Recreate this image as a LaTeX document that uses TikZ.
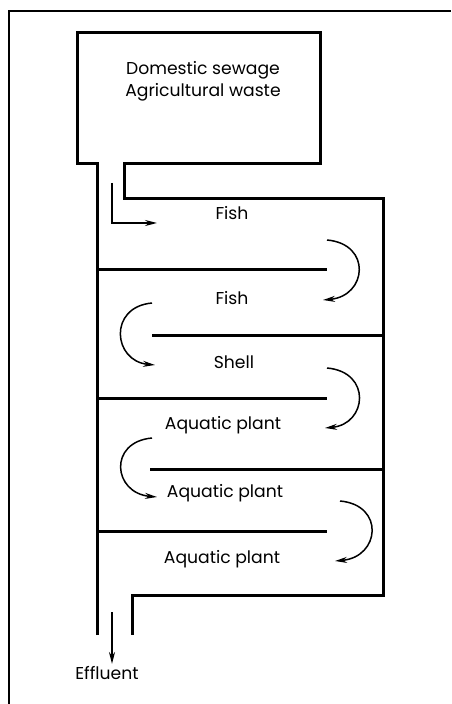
\documentclass[tikz,border=0pt]{standalone}
\usepackage{fontspec}
\setmainfont{Poppins}
\usetikzlibrary{arrows.meta, positioning}

\begin{document}
\begin{tikzpicture}[x=0.5pt, y=-0.5pt,
  wall/.style={line width=1.5pt, line join=miter},
  flow/.style={line width=0.75pt, -{Stealth[length=6pt, width=3pt]}},
  every node/.style={font=\fontsize{8.6}{11}\selectfont, inner sep=1pt}]
\useasboundingbox (0,0) rectangle (451,704);
\draw[line width=1pt] (9,704) -- (9,11) -- (451,11);
\draw[wall] (97,635) -- (97,164) -- (77,164) -- (77,33) -- (320,33) -- (320,164) -- (124,164)
  -- (124,199) -- (383,199) -- (383,595) -- (132,595) -- (132,635);
\draw[wall] (97,270) -- (327,270);
\draw[wall] (152,336) -- (383,336);
\draw[wall] (97,398) -- (327,398);
\draw[wall] (150,469) -- (383,469);
\draw[wall] (97,531) -- (327,531);
\node[align=center] (source) at (203,81) {Domestic sewage\\Agricultural waste};
\node (fish1) at (232,213) {Fish};
\node (fish2) at (232,298) {Fish};
\node (shell) at (234,362) {Shell};
\node (plant1) at (223,425) {Aquatic plant};
\node (plant2) at (225,493) {Aquatic plant};
\node (plant3) at (222,559) {Aquatic plant};
\node (effluent) at (107,673) {Effluent};
\draw[flow] (112,183) |- (157,223);
\draw[flow] (327,240) .. controls (372,244) and (367,296) .. (323,300);
\draw[flow] (152,303) .. controls (108,307) and (113,361) .. (155,365);
\draw[flow] (327,368) .. controls (372,372) and (367,424) .. (325,428);
\draw[flow] (152,438) .. controls (108,442) and (113,493) .. (157,497);
\draw[flow] (340,501) .. controls (385,505) and (380,557) .. (335,561);
\draw[flow] (112,612) -- (effluent.north -| 112,612);
\end{tikzpicture}
\end{document}
